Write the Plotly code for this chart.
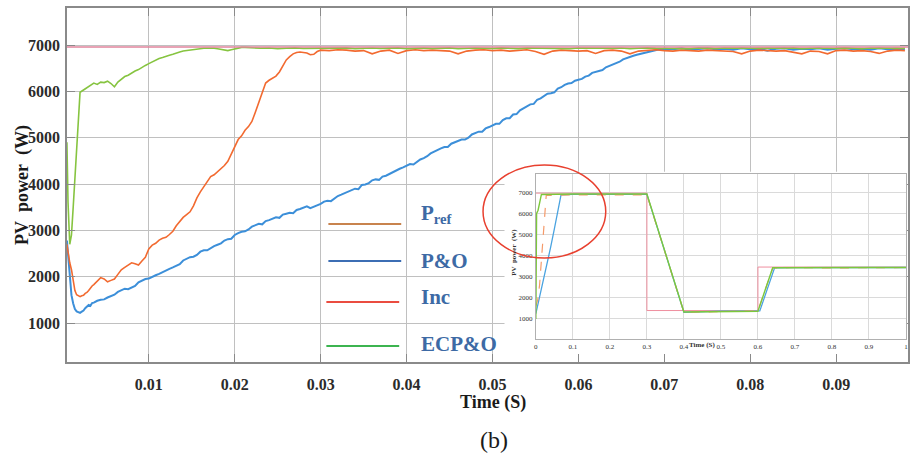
import plotly.graph_objects as go

# ---------------- main window, 0 - 0.1 s ----------------
X_TICKS = [0.01, 0.02, 0.03, 0.04, 0.05, 0.06, 0.07, 0.08, 0.09]
X_TICK_TEXT = ["0.01", "0.02", "0.03", "0.04", "0.05", "0.06", "0.07", "0.08", "0.09"]
Y_TICKS = [1000, 2000, 3000, 4000, 5000, 6000, 7000]

# reference power
P_REF_T = [0.0, 0.1]
P_REF_V = [6960, 6960]

# P&O tracker
PO_HEAD_T = [0.00047, 0.0006, 0.0008, 0.0010, 0.0012, 0.0014, 0.0016, 0.0018, 0.0020,
             0.0022, 0.0024, 0.0026, 0.0028, 0.0030, 0.0032, 0.0034, 0.0036]
PO_HEAD_V = [2780, 2450, 1980, 1600, 1420, 1300, 1250, 1230, 1220,
             1245, 1270, 1320, 1350, 1390, 1370, 1430, 1440]
PO_RAMP_T0, PO_RAMP_DT = 0.0040, 0.0004
PO_RAMP_V = [1480, 1500, 1510, 1550, 1585, 1610, 1670, 1700, 1740, 1730,
             1770, 1800, 1880, 1910, 1950, 1960, 2000, 2030, 2060, 2100,
             2130, 2170, 2200, 2240, 2270, 2350, 2380, 2420, 2430, 2470,
             2540, 2570, 2570, 2620, 2660, 2690, 2720, 2780, 2810, 2820,
             2900, 2940, 2970, 2980, 3020, 3080, 3110, 3140, 3130, 3200,
             3220, 3250, 3280, 3270, 3340, 3360, 3380, 3370, 3440, 3460,
             3490, 3520, 3480, 3510, 3540, 3570, 3620, 3640, 3630, 3680,
             3740, 3770, 3800, 3840, 3870, 3900, 3890, 3980, 3990, 4020,
             4080, 4100, 4090, 4160, 4180, 4220, 4250, 4300, 4330, 4360,
             4400, 4430, 4420, 4470, 4530, 4560, 4600, 4660, 4700, 4740,
             4770, 4800, 4800, 4870, 4900, 4930, 4960, 4960, 5000, 5070,
             5100, 5130, 5130, 5200, 5230, 5270, 5300, 5300, 5380, 5420,
             5420, 5500, 5510, 5590, 5630, 5680, 5720, 5730, 5820, 5850,
             5910, 5950, 5960, 5980, 6060, 6090, 6140, 6170, 6180, 6230,
             6250, 6270, 6320, 6340, 6400, 6420, 6440, 6460, 6520, 6550,
             6590, 6620, 6640, 6690, 6720, 6740, 6770, 6790, 6810, 6830,
             6850, 6870, 6880, 6900, 6910, 6920]
PO_TAIL_T0, PO_TAIL_DT = 0.071, 0.001
PO_TAIL_V = [6910, 6930, 6900, 6920, 6930, 6910, 6920, 6900, 6930, 6910,
             6920, 6880, 6920, 6930, 6900, 6920, 6910, 6930, 6900, 6920,
             6930, 6910, 6920, 6900, 6930, 6910, 6920, 6910]

# incremental conductance tracker
INC_HEAD_T = [0.00047, 0.0006, 0.0008, 0.0010, 0.0012, 0.0014, 0.0016, 0.0018, 0.0020,
              0.0022, 0.0024, 0.0026, 0.0028, 0.0030, 0.0032, 0.0034, 0.0036]
INC_HEAD_V = [2700, 2500, 2300, 2150, 1900, 1700, 1610, 1580, 1570,
              1590, 1600, 1640, 1660, 1700, 1760, 1800, 1830]
INC_RAMP_T0, INC_RAMP_DT = 0.0040, 0.0004
INC_RAMP_V = [1900, 1980, 1950, 1890, 1920, 1950, 2050, 2150, 2200, 2260,
              2300, 2280, 2250, 2340, 2420, 2600, 2680, 2720, 2790, 2830,
              2850, 2910, 2980, 3100, 3190, 3280, 3340, 3400, 3530, 3700,
              3830, 3950, 4060, 4160, 4200, 4270, 4320, 4400, 4490, 4650,
              4800, 4960, 5040, 5160, 5240, 5350, 5550, 5750, 5980, 6180,
              6240, 6290, 6330, 6420, 6560, 6680, 6750, 6810, 6840, 6850,
              6840, 6830, 6790, 6800, 6860, 6890]
INC_TAIL_T0, INC_TAIL_DT = 0.031, 0.001
INC_TAIL_V = [6880, 6900, 6890, 6870, 6880, 6810, 6870, 6890, 6820, 6880,
              6900, 6880, 6890, 6880, 6870, 6810, 6870, 6890, 6900, 6880,
              6890, 6870, 6880, 6900, 6860, 6800, 6870, 6890, 6880, 6870,
              6880, 6820, 6880, 6890, 6870, 6810, 6870, 6880, 6900, 6880,
              6870, 6890, 6880, 6870, 6890, 6880, 6870, 6860, 6810, 6870,
              6890, 6880, 6870, 6880, 6850, 6810, 6870, 6860, 6810, 6880,
              6890, 6870, 6880, 6860, 6820, 6870, 6890, 6880]

# ECP&O tracker
ECP_HEAD_T = [0.00047, 0.0006, 0.0008, 0.0010, 0.0012, 0.0014, 0.0016, 0.0018, 0.0020]
ECP_HEAD_V = [4900, 3600, 2700, 2900, 3500, 4100, 4800, 5500, 5980]
ECP_RAMP_T0, ECP_RAMP_DT = 0.0024, 0.0004
ECP_RAMP_V = [6030, 6080, 6120, 6180, 6150, 6200, 6190, 6220, 6170, 6100,
              6200, 6260, 6320, 6350, 6400, 6440, 6470, 6520, 6560, 6600,
              6640, 6670, 6710, 6730, 6760, 6780, 6800, 6830, 6850, 6870,
              6880, 6900, 6910, 6920, 6920, 6930, 6930, 6935, 6930, 6920,
              6910, 6890, 6880, 6900, 6920, 6940, 6950, 6950]
ECP_TAIL_T0, ECP_TAIL_DT = 0.022, 0.001
ECP_TAIL_V = [6940, 6930, 6935, 6920, 6930, 6940, 6925, 6930, 6920, 6935,
              6930, 6940, 6920, 6930, 6935, 6925, 6930, 6940, 6920, 6930,
              6935, 6925, 6930, 6940, 6920, 6930, 6935, 6930, 6925, 6940,
              6930, 6920, 6935, 6930, 6940, 6925, 6930, 6920, 6935, 6930,
              6940, 6925, 6930, 6935, 6920, 6930, 6940, 6930, 6925, 6935,
              6930, 6920, 6940, 6930, 6925, 6935, 6930, 6940, 6920, 6930,
              6935, 6925, 6930, 6940, 6920, 6930, 6935, 6930, 6925, 6940,
              6930, 6920, 6935, 6930, 6940, 6925, 6930]

# ---------------- overview window, 0 - 1 s ----------------
OV_X_TICKS = [0, 0.1, 0.2, 0.3, 0.4, 0.5, 0.6, 0.7, 0.8, 0.9, 1]
OV_X_TICK_TEXT = ["0", "0.1", "0.2", "0.3", "0.4", "0.5", "0.6", "0.7", "0.8", "0.9", "1"]
OV_Y_TICKS = [1000, 2000, 3000, 4000, 5000, 6000, 7000]

OV_REF_T = [0, 0.3, 0.3, 0.6, 0.6, 1.0]
OV_REF_V = [6960, 6960, 1400, 1400, 3460, 3460]
OV_PO_T = [0, 0.01, 0.02, 0.03, 0.04, 0.05, 0.06, 0.068, 0.1, 0.2, 0.3,
           0.4, 0.5, 0.605, 0.645, 0.7, 0.8, 0.9, 1.0]
OV_PO_V = [1250, 2000, 2900, 3600, 4400, 5270, 6280, 6880, 6900, 6890, 6900,
           1320, 1370, 1380, 3420, 3430, 3440, 3430, 3440]
OV_INC_T = [0, 0.005, 0.01, 0.015, 0.02, 0.025, 0.028, 0.1, 0.2, 0.3,
            0.4, 0.5, 0.6, 0.64, 0.7, 0.8, 0.9, 1.0]
OV_INC_V = [1600, 1900, 2600, 3800, 4800, 6300, 6850, 6880, 6870, 6880,
            1320, 1360, 1380, 3420, 3440, 3420, 3440, 3440]
OV_ECP_T = [0, 0.002, 0.006, 0.015, 0.1, 0.2, 0.3, 0.4, 0.5, 0.6, 0.64, 0.7, 0.8, 0.9, 1.0]
OV_ECP_V = [1000, 6000, 6150, 6900, 6920, 6920, 6920, 1330, 1360, 1370, 3430, 3440, 3430, 3440, 3440]

# legend entries
LEGEND_LABELS = ["P<sub>ref</sub>", "P&O", "Inc", "ECP&O"]
LEGEND_COLORS = ["#c8834e", "#3c6eb4", "#ea4c40", "#3cb450"]

C_PO, C_INC, C_ECP, C_REF = "#3c8fd9", "#f26a30", "#86c440", "#e0849c"
SERIF = "Liberation Serif"


def sampled(t0, dt, vals):
    return [round(t0 + i * dt, 6) for i in range(len(vals))]


po_t = PO_HEAD_T + sampled(PO_RAMP_T0, PO_RAMP_DT, PO_RAMP_V) + sampled(PO_TAIL_T0, PO_TAIL_DT, PO_TAIL_V)
po_v = PO_HEAD_V + PO_RAMP_V + PO_TAIL_V
inc_t = INC_HEAD_T + sampled(INC_RAMP_T0, INC_RAMP_DT, INC_RAMP_V) + sampled(INC_TAIL_T0, INC_TAIL_DT, INC_TAIL_V)
inc_v = INC_HEAD_V + INC_RAMP_V + INC_TAIL_V
ecp_t = ECP_HEAD_T + sampled(ECP_RAMP_T0, ECP_RAMP_DT, ECP_RAMP_V) + sampled(ECP_TAIL_T0, ECP_TAIL_DT, ECP_TAIL_V)
ecp_v = ECP_HEAD_V + ECP_RAMP_V + ECP_TAIL_V

fig = go.Figure()


def line(x, y, color, width, axes=("x", "y"), dash="solid"):
    fig.add_trace(go.Scatter(x=x, y=y, mode="lines", xaxis=axes[0], yaxis=axes[1],
                             line=dict(color=color, width=width, dash=dash),
                             showlegend=False, hoverinfo="skip"))


line(po_t, po_v, C_PO, 2.0)
line(inc_t, inc_v, C_INC, 1.6)
line(ecp_t, ecp_v, C_ECP, 1.6)
line(P_REF_T, P_REF_V, C_REF, 1.5)

ov = ("x2", "y2")
line(OV_REF_T, OV_REF_V, "#ef8f9f", 1, ov)
line(OV_PO_T, OV_PO_V, "#4aa3e0", 1.3, ov)
line(OV_INC_T, OV_INC_V, "#f59a6a", 1.2, ov, dash="dash")
line(OV_ECP_T, OV_ECP_V, "#7cc83c", 1.4, ov)

tick_font = dict(family=SERIF, size=16, color="#2b2b2b", weight="bold")
small_font = dict(family=SERIF, size=7, color="#333333")
axis_common = dict(ticks="inside", ticklen=8, tickwidth=1.2, tickcolor="#8a8a8a",
                   showline=True, linecolor="#8a8a8a", linewidth=1.5, mirror="ticks",
                   showgrid=True, gridcolor="#c0c0c0", gridwidth=1, zeroline=False,
                   tickfont=tick_font)
ov_common = dict(showline=True, linecolor="#b0b0b0", linewidth=1, mirror=True,
                 showgrid=True, gridcolor="#dadada", gridwidth=1, zeroline=False,
                 ticks="", tickfont=small_font, ticklabelstandoff=1)

shapes = [
    # blank panel under the overview window
    dict(type="rect", xref="x", yref="y", x0=0.0514, x1=0.0990, y0=100, y1=4263,
         fillcolor="white", line=dict(width=0), layer="between"),
    # highlight ring around the start-up transient
    dict(type="circle", xref="paper", yref="paper", x0=0.4947, x1=0.6406, y0=0.2938, y1=0.5565,
         line=dict(color="#e8402f", width=1.5), layer="above"),
]
annotations = []
legend_rows = [(0.3108, 0.3974, 0.3898, 0.4181), (0.3108, 0.3974, 0.2853, 0.2853),
               (0.3084, 0.3950, 0.1695, 0.1836), (0.3084, 0.3950, 0.0452, 0.0508)]
for label, color, (x0, x1, yl, yt) in zip(LEGEND_LABELS, LEGEND_COLORS, legend_rows):
    shapes.append(dict(type="line", xref="paper", yref="paper", x0=x0, x1=x1, y0=yl, y1=yl,
                       line=dict(color=color, width=2.2), layer="above"))
    annotations.append(dict(xref="paper", yref="paper", x=0.4187, y=yt, text=label,
                            showarrow=False, xanchor="left", yanchor="middle",
                            font=dict(family=SERIF, size=21, color="#3d6aa5", weight="bold")))

annotations += [
    dict(xref="paper", yref="paper", x=0.5065, y=-0.113, text="Time (S)", showarrow=False,
         xanchor="center", yanchor="middle",
         font=dict(family=SERIF, size=18, color="#1a1a1a", weight="bold")),
    dict(xref="paper", yref="paper", x=-0.0535, y=0.5, text="PV\u00a0\u00a0power\u00a0\u00a0(W)",
         showarrow=False, textangle=-90, xanchor="center", yanchor="middle",
         font=dict(family=SERIF, size=18, color="#1a1a1a", weight="bold")),
    dict(xref="paper", yref="paper", x=0.5077, y=-0.2203, text="(b)", showarrow=False,
         xanchor="center", yanchor="middle",
         font=dict(family=SERIF, size=24, color="#1a1a1a")),
    dict(xref="x2", yref="paper", x=0.45, y=0.048, text="Time (S)", showarrow=False,
         xanchor="center", yanchor="middle",
         font=dict(family=SERIF, size=7, color="#333333", weight="bold")),
    dict(xref="paper", yref="paper", x=0.5314, y=0.311, text="PV  power  (W)", showarrow=False,
         textangle=-90, xanchor="center", yanchor="middle",
         font=dict(family=SERIF, size=7, color="#333333", weight="bold")),
]

fig.update_layout(
    width=914, height=455,
    margin=dict(l=67, r=4, t=8, b=93),
    paper_bgcolor="white", plot_bgcolor="white",
    showlegend=False,
    xaxis=dict(range=[0.00048, 0.09836], tickvals=X_TICKS, ticktext=X_TICK_TEXT,
               ticklabelstandoff=7, **axis_common),
    yaxis=dict(range=[158, 7800], tickvals=Y_TICKS, ticklabelstandoff=2, **axis_common),
    xaxis2=dict(domain=[0.5575, 0.9976], anchor="y2", range=[0, 1],
                tickvals=OV_X_TICKS, ticktext=OV_X_TICK_TEXT, **ov_common),
    yaxis2=dict(domain=[0.065, 0.531], anchor="x2", range=[53, 7866],
                tickvals=OV_Y_TICKS, **ov_common),
    shapes=shapes,
    annotations=annotations,
)

fig.write_html("out.html")
